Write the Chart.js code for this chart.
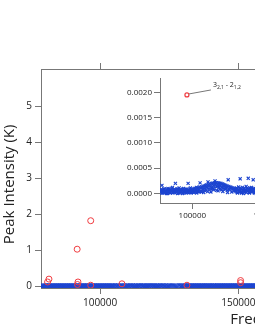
<!DOCTYPE html>
<html lang="en">
  <head>
    <meta charset="UTF-8" />
    <title>Peak intensity</title>
    <script src="https://cdn.jsdelivr.net/npm/chart.js"></script>
    <style>
      body { margin: 0; overflow: hidden; background: #fff; }
      #mainChart { position: absolute; left: 0; top: 0; }
      #insetChart { position: absolute; left: 110px; top: 72px; }
    </style>
  </head>
  <body>
    <canvas id="mainChart" width="545" height="330"></canvas>
    <canvas id="insetChart" width="195" height="150"></canvas>
    <script>
      // red circles, main panel (MHz, K)
      const redFreq = [81000, 81500, 91700, 92000, 91800, 96600, 96600, 107900, 131400, 150800, 150800];
      const redInt = [0.12, 0.2, 1.03, 0.12, 0.05, 1.82, 0.03, 0.07, 0.03, 0.16, 0.1];

      // red point in the inset + its label
      const insetRedFreq = [96400];
      const insetRedInt = [0.00195];
      const insetLabel = ["3", "2,1", " - ", "2", "1,2"]; // normal / sub / normal / normal / sub

      // blue crosses (MHz, K)
      const blueFreq = [
        78700, 79200, 79700, 80200, 80700, 81200, 81700, 82200, 82700, 83200,
        83700, 84200, 84700, 85200, 85700, 86200, 86700, 87200, 87700, 88200,
        88700, 89200, 89700, 90200, 90700, 91200, 91700, 92200, 92700, 93200,
        93700, 94200, 94700, 95200, 95700, 96200, 96700, 97200, 97700, 98200,
        98700, 99200, 99700,
        100200, 100700, 101200, 101700, 102200, 102700, 103200, 103700, 104200, 104700, 105200,
        105700, 106000, 106400, 106800, 107200, 107600, 108000, 108400, 108800, 109200,
        109600, 110000, 110500, 110800, 111200, 111600, 112000, 112400, 112800, 113200,
        113600, 114000, 114400, 114800, 115200, 115600, 116000, 116400, 116800, 117200,
        117600, 118000, 118400, 118800, 119200, 119600, 120000, 120400, 120800, 121200,
        121600, 122000, 122400, 122800, 123200, 123600, 124000, 124400, 124800, 125200,
        125600, 126000, 126400, 126800, 127200, 127600, 128000, 128500,
        129000, 129500, 130000, 130500, 131000, 131500, 132000, 132500, 133000, 133500,
        134000, 134500, 135000, 135500, 136000, 136500, 137000, 137400, 138000, 138500,
        139000, 139500, 140000, 140700, 141000, 141500, 142000, 142500, 143000, 143500,
        144000, 144500, 145000, 145500, 146000, 146500, 147000, 147500, 148000, 148500,
        149000, 149500, 150000, 150500, 151000, 151500, 152000, 152500, 153000, 153500,
        154000, 154500, 155000, 155500, 156000, 156500, 157000, 157500, 158000, 158500,
        159000, 159500, 160000,
        // second pass of lines in between
        78950, 79450, 79950, 80450, 80950, 81450, 81950, 82450, 82950, 83450,
        83950, 84450, 84950, 85450, 85950, 86450, 86950, 87450, 87950, 88450,
        88950, 89450, 89950, 90450, 90950, 91450, 91950, 92450, 92950, 93450,
        93950, 94450, 94950, 95450, 95950, 96450, 96950, 97450, 97950, 98450,
        98950, 99450, 99950,
        100450, 100950, 101450, 101950, 102450, 102950, 103450, 103950, 104450, 104950,
        105950, 107000, 108200, 109400, 110300, 111400, 112600, 113400, 114200, 115400,
        116200, 117000, 117800, 118600, 119400, 120200, 121000, 122200, 123400, 124600,
        129250, 129750, 130250, 130750, 131250, 131750, 132250, 132750, 133250, 133750,
        134250, 134750, 135250, 135750, 136250, 136750, 137250, 137750, 138250, 138750,
        139250, 139750, 140250, 140750, 141250, 141750, 142250, 142750, 143250, 143750,
        144250, 144750, 145250, 145750, 146250, 146750, 147250, 147750, 148250, 148750,
        149250, 149750, 150250, 150750, 151250, 151750, 152250, 152750, 153250, 153750,
        154250, 154750, 155250, 155750, 156250, 156750, 157250, 157750, 158250, 158750,
        159250, 159750,
      ];
      const blueInt = [
        3e-5, 8e-5, 16e-5, 1e-5, 6e-5, 9e-5, 2e-5, 5e-5, 0, 7e-5,
        10e-5, 3e-5, 6e-5, 1e-5, 8e-5, 4e-5, 12e-5, 2e-5, 7e-5, 5e-5,
        20e-5, 3e-5, 9e-5, 0, 6e-5, 11e-5, 2e-5, 7e-5, 4e-5, 8e-5,
        1e-5, 10e-5, 5e-5, 3e-5, 9e-5, 6e-5, 2e-5, 20e-5, 7e-5, 4e-5,
        11e-5, 1e-5, 8e-5,
        5e-5, 9e-5, 3e-5, 10e-5, 6e-5, 12e-5, 4e-5, 11e-5, 7e-5, 13e-5, 21e-5,
        12e-5, 4e-5, 13e-5, 8e-5, 14e-5, 2e-5, 15e-5, 10e-5, 16e-5, 6e-5,
        17e-5, 12e-5, 23e-5, 18e-5, 9e-5, 19e-5, 14e-5, 3e-5, 20e-5, 11e-5,
        20.5e-5, 16e-5, 7e-5, 21e-5, 25e-5, 21e-5, 13e-5, 21.5e-5, 18e-5, 5e-5,
        21e-5, 15e-5, 20.5e-5, 9e-5, 20e-5, 12e-5, 19e-5, 4e-5, 18e-5, 14e-5,
        17e-5, 8e-5, 16e-5, 11e-5, 15e-5, 2e-5, 27e-5, 14e-5, 7e-5, 13e-5,
        10e-5, 12e-5, 3e-5, 11e-5, 8e-5, 10e-5, 5e-5, 9e-5,
        6e-5, 11e-5, 2e-5, 8e-5, 13e-5, 4e-5, 29e-5, 9e-5, 1e-5, 12e-5,
        6e-5, 10e-5, 3e-5, 8e-5, 14e-5, 5e-5, 9e-5, 30e-5, 2e-5, 11e-5,
        7e-5, 12e-5, 4e-5, 27e-5, 9e-5, 1e-5, 10e-5, 6e-5, 13e-5, 3e-5,
        8e-5, 11e-5, 5e-5, 24e-5, 9e-5, 2e-5, 12e-5, 7e-5, 4e-5, 10e-5,
        6e-5, 13e-5, 1e-5, 8e-5, 11e-5, 3e-5, 9e-5, 5e-5, 12e-5, 7e-5,
        2e-5, 10e-5, 6e-5, 22e-5, 4e-5, 11e-5, 8e-5, 1e-5, 9e-5, 5e-5,
        12e-5, 3e-5, 7e-5,
        // second pass
        5e-5, 1e-5, 7e-5, 4e-5, 9e-5, 2e-5, 6e-5, 3e-5, 8e-5, 0,
        5e-5, 9e-5, 2e-5, 7e-5, 4e-5, 10e-5, 1e-5, 6e-5, 3e-5, 8e-5,
        5e-5, 2e-5, 7e-5, 9e-5, 1e-5, 4e-5, 8e-5, 3e-5, 6e-5, 0,
        9e-5, 2e-5, 5e-5, 7e-5, 1e-5, 8e-5, 4e-5, 3e-5, 6e-5, 9e-5,
        2e-5, 5e-5, 3e-5,
        7e-5, 2e-5, 8e-5, 4e-5, 9e-5, 1e-5, 6e-5, 10e-5, 3e-5, 8e-5,
        3e-5, 9e-5, 6e-5, 12e-5, 4e-5, 15e-5, 8e-5, 13e-5, 10e-5, 17e-5,
        6e-5, 14e-5, 11e-5, 16e-5, 7e-5, 13e-5, 9e-5, 12e-5, 6e-5, 9e-5,
        4e-5, 9e-5, 1e-5, 7e-5, 3e-5, 10e-5, 6e-5, 2e-5, 8e-5, 5e-5,
        0, 9e-5, 4e-5, 7e-5, 2e-5, 11e-5, 5e-5, 8e-5, 1e-5, 6e-5,
        3e-5, 10e-5, 7e-5, 4e-5, 9e-5, 2e-5, 6e-5, 0, 8e-5, 5e-5,
        11e-5, 3e-5, 7e-5, 1e-5, 9e-5, 4e-5, 6e-5, 10e-5, 2e-5, 8e-5,
        5e-5, 3e-5, 9e-5, 1e-5, 7e-5, 4e-5, 10e-5, 6e-5, 2e-5, 8e-5,
        3e-5, 9e-5, 5e-5, 1e-5, 7e-5, 4e-5, 10e-5, 2e-5, 6e-5, 8e-5,
        3e-5, 5e-5,
      ];

      // tick values
      const mainXTicks = [100000, 150000, 200000, 250000];
      const mainYTicks = [0, 1, 2, 3, 4, 5];
      const insetXTicks = [100000, 150000];
      const insetYTicks = [0, 0.0005, 0.001, 0.0015, 0.002];

      const axisGrey = "#777";
      const blue = "rgb(28, 68, 208)";
      const red = "rgb(240, 60, 64)";

      Chart.defaults.font.family = "'Open Sans', sans-serif";
      Chart.defaults.color = "#222";
      Chart.defaults.animation = false;

      const pts = (xs, ys) => xs.map((x, i) => ({ x: x, y: ys[i] }));
      const fixTicks = (list) => (s) => { s.ticks = list.map((v) => ({ value: v })); };

      // ---------- main panel ----------
      const mainX = { min: 78620, max: 258000 };
      new Chart(document.getElementById("mainChart"), {
        type: "scatter",
        data: {
          datasets: [
            {
              data: pts(redFreq, redInt),
              pointStyle: "circle",
              pointRadius: 3,
              borderWidth: 1,
              borderColor: red,
              backgroundColor: "rgba(0,0,0,0)",
            },
            {
              data: pts(blueFreq, blueInt),
              pointStyle: "crossRot",
              pointRadius: 4,
              borderWidth: 1,
              borderColor: blue,
              backgroundColor: blue,
            },
          ],
        },
        options: {
          responsive: false,
          layout: { padding: { left: 0, top: 0, right: 8, bottom: 0 } },
          plugins: { legend: { display: false }, tooltip: { enabled: false } },
          scales: {
            x: {
              type: "linear",
              position: "bottom",
              min: mainX.min,
              max: mainX.max,
              border: { display: true, color: axisGrey },
              grid: { drawOnChartArea: false, tickLength: 6, color: axisGrey },
              ticks: { autoSkip: false, padding: 3, maxRotation: 0, font: { size: 10 }, callback: (v) => String(v) },
              afterBuildTicks: fixTicks(mainXTicks),
              title: { display: true, text: "Frequency (MHz)", font: { size: 15 }, padding: { top: 0, bottom: 1 } },
              afterFit: (s) => { s.height = 42; },
            },
            x2: {
              type: "linear",
              position: "top",
              display: true,
              min: mainX.min,
              max: mainX.max,
              border: { display: true, color: axisGrey },
              grid: { drawOnChartArea: false, tickLength: 6, color: axisGrey },
              ticks: { display: false, autoSkip: false },
              afterBuildTicks: fixTicks(mainXTicks),
              afterFit: (s) => { s.height = 69; },
            },
            y: {
              min: -0.047,
              max: 6.03,
              border: { display: true, color: axisGrey },
              grid: { drawOnChartArea: false, tickLength: 6, color: axisGrey },
              ticks: { autoSkip: false, padding: 3, font: { size: 10 }, callback: (v) => String(v) },
              afterBuildTicks: fixTicks(mainYTicks),
              title: {
                display: true,
                text: "Peak Intensity (K)\u00a0\u00a0\u00a0",
                font: { size: 15 },
                padding: { top: 1, bottom: 0 },
              },
              afterFit: (s) => { s.width = 41; },
            },
          },
        },
      });

      // ---------- inset ----------
      const labelPlugin = {
        id: "transitionLabel",
        afterDatasetsDraw(chart) {
          const { ctx } = chart;
          const px = chart.scales.x.getPixelForValue(insetRedFreq[0]);
          const py = chart.scales.y.getPixelForValue(insetRedInt[0]);
          ctx.save();
          ctx.strokeStyle = axisGrey;
          ctx.lineWidth = 1;
          ctx.beginPath();
          ctx.moveTo(px + 2, py - 1);
          ctx.lineTo(px + 24, py - 5);
          ctx.stroke();

          ctx.fillStyle = "#222";
          ctx.textBaseline = "alphabetic";
          ctx.textAlign = "left";
          let tx = px + 26;
          const base = py - 8;
          insetLabel.forEach((part, i) => {
            const sub = i === 1 || i === 4;
            ctx.font = (sub ? "5px" : "7px") + " 'Open Sans', sans-serif";
            ctx.fillText(part, tx, sub ? base + 2 : base);
            tx += ctx.measureText(part).width;
          });
          ctx.restore();
        },
      };

      new Chart(document.getElementById("insetChart"), {
        type: "scatter",
        data: {
          datasets: [
            {
              data: pts(insetRedFreq, insetRedInt),
              pointStyle: "circle",
              pointRadius: 2,
              borderWidth: 1.2,
              borderColor: red,
              backgroundColor: "#fff",
            },
            {
              data: pts(blueFreq, blueInt),
              pointStyle: "crossRot",
              pointRadius: 2.2,
              borderWidth: 1.1,
              borderColor: blue,
              backgroundColor: blue,
            },
          ],
        },
        options: {
          responsive: false,
          layout: { padding: { left: 0, top: 5, right: 8, bottom: 0 } },
          plugins: { legend: { display: false }, tooltip: { enabled: false } },
          scales: {
            x: {
              type: "linear",
              position: "bottom",
              min: 78400,
              max: 170000,
              border: { display: true, color: axisGrey },
              grid: { drawOnChartArea: false, tickLength: 6, color: axisGrey },
              ticks: { autoSkip: false, padding: 2, maxRotation: 0, font: { size: 8 }, callback: (v) => String(v) },
              afterBuildTicks: fixTicks(insetXTicks),
              afterFit: (s) => { s.height = 19; },
            },
            y: {
              min: -0.000189,
              max: 0.00227,
              border: { display: true, color: axisGrey },
              grid: { drawOnChartArea: false, tickLength: 6, color: axisGrey },
              ticks: { autoSkip: false, padding: 2, font: { size: 8 }, callback: (v) => v.toFixed(4) },
              afterBuildTicks: fixTicks(insetYTicks),
              afterFit: (s) => { s.width = 50; },
            },
          },
        },
        plugins: [labelPlugin],
      });
    </script>
  </body>
</html>
